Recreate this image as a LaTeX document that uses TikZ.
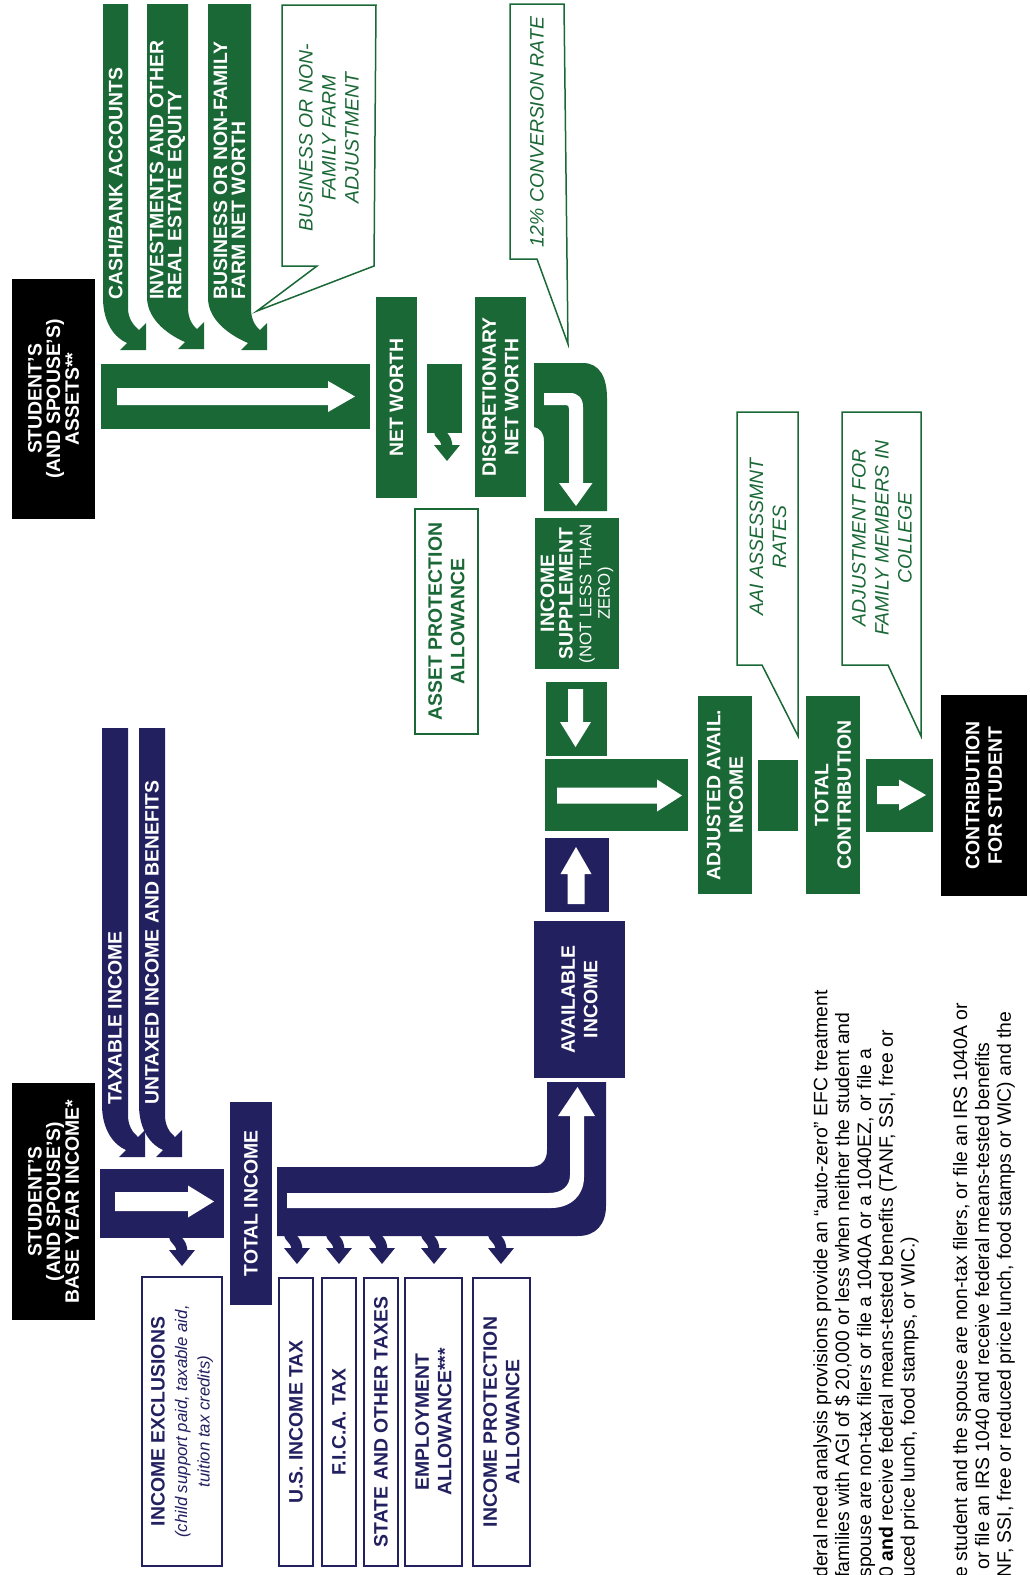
\documentclass[tikz,border=0pt]{standalone}
\usepackage{fontspec}
\setmainfont{Liberation Sans}
\definecolor{efcgreen}{RGB}{26,104,54}
\definecolor{efcnavy}{RGB}{35,32,96}
\tikzset{
  flowbox/.style={rotate=90, inner sep=0pt, outer sep=0pt, align=center,
    font=\bfseries\fontsize{9.7}{11.25}\selectfont},
  sz/.style 2 args={minimum height={#1*0.5pt}, minimum width={#2*0.5pt}},
  gbox/.style={flowbox, fill=efcgreen, text=white},
  nbox/.style={flowbox, fill=efcnavy, text=white},
  kbox/.style={flowbox, fill=black, text=white},
  gframe/.style={flowbox, draw=efcgreen, line width=1pt, fill=white, text=efcgreen},
  nframe/.style={flowbox, draw=efcnavy, line width=1pt, fill=white, text=efcnavy},
  tightlines/.style={font=\bfseries\fontsize{9.7}{9.3}\selectfont},
  bandtext/.style={rotate=90, inner sep=0pt, anchor=west, align=left, text=white,
    font=\bfseries\fontsize{9.7}{9}\selectfont},
  calltext/.style={rotate=90, inner sep=0pt, align=center, text=efcgreen,
    font=\itshape\fontsize{9.7}{11.5}\selectfont},
  callout/.style={draw=efcgreen, line width=0.75pt, fill=white},
  notetext/.style={rotate=90, inner sep=0pt, anchor=west, align=left,
    font=\fontsize{9.7}{10.9}\selectfont},
}
% colour, top, left x, right x, tip x, tip y
\newcommand{\bendarrow}[6]{%
  \fill[#1] (#3,#2) -- (#3,{#6-52})
    .. controls (#3,{#6-27}) and ({#5-31},{#6-12}) .. ({#5-19},{#6-7})
    -- ({#5-26},#6) -- (#5,#6) -- (#5,{#6-27}) -- ({#5-7},{#6-20})
    .. controls ({#5-13},{#6-25}) and (#4,{#6-32}) .. (#4,{#6-42})
    -- (#4,#2) -- cycle;}
% colour, tip x, top y
\newcommand{\droparrow}[3]{%
  \draw[#1, line width=5.5pt] ({#2-8},{#3-3}) .. controls ({#2-8},{#3+6}) and (#2,{#3+4}) .. (#2,{#3+17});
  \fill[#1] ({#2-13},{#3+14}) -- ({#2+13},{#3+14}) -- (#2,{#3+30}) -- cycle;}
% start x, head x, tip x, centre y, shaft half, head half
\newcommand{\rightblock}[6]{%
  \fill[white] (#1,{#4-#5}) -- (#2,{#4-#5}) -- (#2,{#4-#6}) -- (#3,#4)
    -- (#2,{#4+#6}) -- (#2,{#4+#5}) -- (#1,{#4+#5}) -- cycle;}
% start y, head y, tip y, centre x, shaft half, head half
\newcommand{\vertblock}[6]{%
  \fill[white] ({#4-#5},#1) -- ({#4-#5},#2) -- ({#4-#6},#2) -- (#4,#3)
    -- ({#4+#6},#2) -- ({#4+#5},#2) -- ({#4+#5},#1) -- cycle;}
\begin{document}
\begin{tikzpicture}[x=0.5pt,y=-0.5pt]
\useasboundingbox (0,0) rectangle (1029,1575);

% callouts
\draw[callout] (282,5) -- (376,5) -- (374,266) -- (257,311) -- (317,266) -- (282,266) -- cycle;
\draw[callout] (510,4) -- (564,4) -- (568,344) -- (537,259) -- (510,259) -- cycle;
\draw[callout] (737,412) -- (798,412) -- (798,736) -- (762,665) -- (737,665) -- cycle;
\draw[callout] (842,412) -- (921,412) -- (921,736) -- (888,665) -- (842,665) -- cycle;
\node[calltext] (farmadj) at (329,138) {BUSINESS OR NON-\\FAMILY FARM\\ADJUSTMENT};
\node[calltext] (convrate) at (537,132) {12\% CONVERSION RATE};
\node[calltext] (aairates) at (768,537) {AAI ASSESSMNT\\RATES};
\node[calltext] (famadj) at (882,538) {ADJUSTMENT FOR\\FAMILY MEMBERS IN\\COLLEGE};

% asset side
\bendarrow{efcgreen}{4}{103}{128}{146}{350}
\bendarrow{efcgreen}{4}{147}{188}{204}{349}
\bendarrow{efcgreen}{4}{208}{251}{267}{350}
\node[bandtext] (cash) at (115.5,300) {CASH/BANK ACCOUNTS};
\node[bandtext] (invest) at (167.5,300) {INVESTMENTS AND OTHER\\REAL ESTATE EQUITY};
\node[bandtext] (busnw) at (229.5,300) {BUSINESS OR NON-FAMILY\\FARM NET WORTH};
\fill[efcgreen] (101,364) rectangle (370,429);
\rightblock{117}{328}{355}{396.5}{8.5}{15.5}
\droparrow{efcgreen}{447}{431}
\fill[efcgreen] (427,364) rectangle (462,433);
\fill[efcgreen] (534,363) -- (583,363) .. controls (600,363) and (607,378) .. (607,398)
  -- (607,511) -- (544,511) -- (544,441) .. controls (544,433) and (540,428) .. (534,427) -- cycle;
\fill[white] (544,393) -- (570,393) .. controls (578,393) and (583,398) .. (583,407)
  -- (583,483) -- (592.5,483) -- (576,506) -- (559,483) -- (569,483) -- (569,409)
  .. controls (569,406) and (568,405) .. (566,405) -- (544,405) -- cycle;
\fill[efcgreen] (546,682) rectangle (607,756);
\vertblock{689}{722}{747}{575.5}{7.5}{15.5}
\fill[efcgreen] (545,759) rectangle (688,831);
\rightblock{557}{657}{682}{795.5}{8}{16}
\fill[efcgreen] (758,760) rectangle (798,831);
\fill[efcgreen] (866,759) rectangle (933,832);
\rightblock{877}{899}{926}{795}{9}{15.5}

% income side
\bendarrow{efcnavy}{728}{102}{128}{145}{1157}
\bendarrow{efcnavy}{728}{139}{165}{182}{1157}
\node[bandtext] (taxable) at (115,1105) {TAXABLE INCOME};
\node[bandtext] (untaxed) at (152,1105) {UNTAXED INCOME AND BENEFITS};
\droparrow{efcnavy}{182}{1236}
\fill[efcnavy] (100,1169) rectangle (224,1238);
\rightblock{115}{188}{214}{1201.5}{9.5}{16}
\foreach \tx in {297,339,382,434,501}
  \droparrow{efcnavy}{\tx}{1234};
\fill[efcnavy] (277,1167) -- (530,1167) .. controls (541,1167) and (547,1161) .. (547,1150)
  -- (547,1082) -- (606,1082) -- (606,1206) .. controls (606,1224) and (596,1236) .. (578,1236)
  -- (277,1236) -- cycle;
\fill[white] (287,1193) -- (549,1193) .. controls (562,1193) and (570,1186) .. (570,1175)
  -- (570,1116) -- (558,1116) -- (577.5,1087) -- (595,1116) -- (584,1116) -- (584,1177)
  .. controls (584,1196) and (570,1208) .. (551,1208) -- (287,1208) -- cycle;
\fill[efcnavy] (545,838) rectangle (609,912);
\vertblock{904}{874}{847}{576}{8.5}{15.5}

% boxes
\node[kbox, tightlines, sz={83}{240}] (assets) at (53.5,399) {STUDENT’S\\(AND SPOUSE’S)\\ASSETS**};
\node[gbox, sz={41}{201}] (networth) at (396.5,397.5) {NET WORTH};
\node[gbox, sz={51}{200}] (discnw) at (500.5,397) {DISCRETIONARY\\NET WORTH};
\node[gframe, sz={63}{225}] (assetprot) at (446.5,621.5) {ASSET PROTECTION\\ALLOWANCE};
\node[gbox, tightlines, sz={84}{151}] (incsupp) at (577,593.5)
  {INCOME\\SUPPLEMENT\\{\mdseries\fontsize{8.4}{9}\selectfont (NOT LESS THAN}\\{\mdseries\fontsize{8.4}{9}\selectfont ZERO)}};
\node[gbox, sz={54}{198}] (adjavail) at (725,795) {ADJUSTED AVAIL.\\INCOME};
\node[gbox, sz={54}{198}] (totcontr) at (833,795) {TOTAL\\CONTRIBUTION};
\node[kbox, sz={86}{201}] (contrib) at (984,795.5) {CONTRIBUTION\\FOR STUDENT};
\node[kbox, tightlines, sz={83}{237}] (income) at (53.5,1201.5) {STUDENT’S\\(AND SPOUSE’S)\\BASE YEAR INCOME*};
\node[nbox, sz={42}{203}] (totinc) at (251,1203.5) {TOTAL INCOME};
\node[nbox, sz={91}{157}] (availinc) at (579.5,999.5) {AVAILABLE\\INCOME};
\node[nframe, sz={80}{289}] (exclusions) at (182,1421.5)
  {INCOME EXCLUSIONS\\{\mdseries\itshape\fontsize{8.4}{10}\selectfont (child support paid, taxable aid,}\\{\mdseries\itshape\fontsize{8.4}{10}\selectfont tuition tax credits)}};
\node[nframe, sz={34}{288}] (ustax) at (296,1422) {U.S. INCOME TAX};
\node[nframe, sz={34}{288}] (fica) at (339,1422) {F.I.C.A. TAX};
\node[nframe, sz={34}{288}] (statetax) at (381,1422) {STATE AND OTHER TAXES};
\node[nframe, sz={57}{288}] (employ) at (433.5,1422) {EMPLOYMENT\\ALLOWANCE***};
\node[nframe, sz={57}{288}] (incprot) at (501.5,1422) {INCOME PROTECTION\\ALLOWANCE};

% notes
\node[notetext] (note1) at (866,1578) {deral need analysis provisions provide an “auto-zero” EFC treatment\\families with AGI of \$ 20,000 or less when neither the student and\\spouse are non-tax filers or file a 1040A or a 1040EZ, or file a\\0 \textbf{and} receive federal means-tested benefits (TANF, SSI, free or\\uced price lunch, food stamps, or WIC.)};
\node[notetext] (note2) at (984,1578) {e student and the spouse are non-tax filers, or file an IRS 1040A or\\\hspace*{4pt}or file an IRS 1040 and receive federal means-tested benefits\\NF, SSI, free or reduced price lunch, food stamps or WIC) and the};
\end{tikzpicture}
\end{document}
